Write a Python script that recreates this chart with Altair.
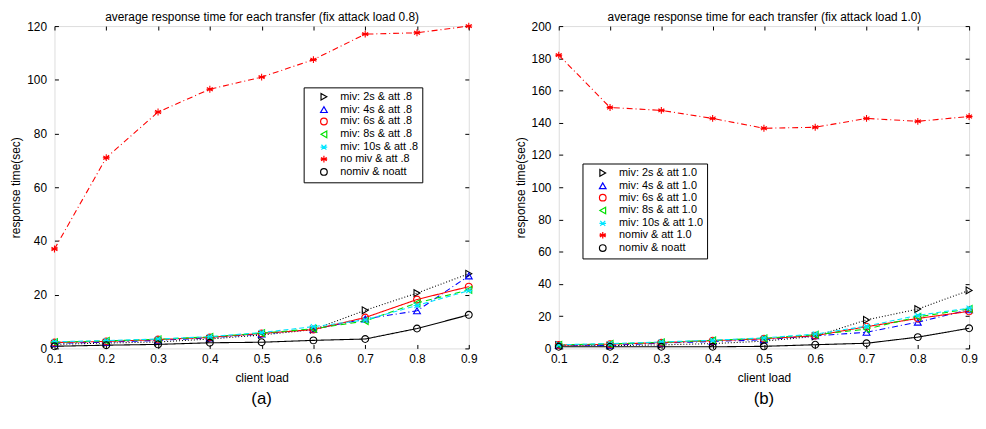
import altair as alt
import pandas as pd

# ---------------- data ----------------
x_loads = [0.1, 0.2, 0.3, 0.4, 0.5, 0.6, 0.7, 0.8, 0.9]

a_series = ["miv: 2s & att .8", "miv: 4s & att .8", "miv: 6s & att .8",
            "miv: 8s & att .8", "miv: 10s & att .8", "no miv & att .8",
            "nomiv & noatt"]
a_miv2 = [1.5, 2.0, 2.4, 3.5, 5.0, 7.0, 14.2, 20.6, 27.8]
a_miv4 = [1.9, 2.3, 3.0, 3.9, 5.4, 7.1, 11.0, 14.0, 27.0]
a_miv6 = [2.2, 2.6, 3.3, 4.1, 5.6, 7.0, 11.5, 18.2, 23.0]
a_miv8 = [2.3, 2.8, 3.4, 4.3, 5.7, 7.3, 10.2, 16.9, 21.8]
a_miv10 = [2.5, 2.9, 3.5, 4.4, 5.9, 8.1, 10.6, 16.0, 21.5]
a_nomiv_att = [37.0, 71.0, 88.0, 96.5, 101.0, 107.5, 117.0, 117.5, 120.0]
a_nomiv_noatt = [0.8, 1.2, 1.5, 2.1, 2.3, 3.0, 3.5, 7.4, 12.5]

b_series = ["miv: 2s & att 1.0", "miv: 4s & att 1.0", "miv: 6s & att 1.0",
            "miv: 8s & att 1.0", "miv: 10s & att 1.0", "nomiv & att 1.0",
            "nomiv & noatt"]
b_miv2 = [2.0, 1.7, 2.2, 3.0, 4.5, 7.5, 17.7, 24.4, 36.0]
b_miv4 = [2.0, 1.9, 3.3, 4.3, 5.4, 7.8, 10.0, 16.3, 24.0]
b_miv6 = [2.1, 2.6, 3.6, 4.8, 6.0, 7.9, 13.5, 18.6, 23.0]
b_miv8 = [2.2, 2.8, 3.8, 5.0, 6.3, 8.5, 12.0, 19.6, 24.5]
b_miv10 = [2.3, 3.0, 4.0, 5.1, 6.5, 8.9, 13.8, 20.5, 25.0]
b_nomiv_att = [182.0, 149.5, 147.7, 142.7, 136.6, 137.2, 142.7, 140.9, 143.9]
b_nomiv_noatt = [1.0, 1.0, 1.0, 1.0, 1.3, 2.3, 3.2, 7.0, 12.5]

a_title = "average response time for each transfer (fix attack load 0.8)"
b_title = "average response time for each transfer (fix attack load 1.0)"
x_title = "client load"
y_title = "response time(sec)"

# ---------------- styling ----------------
FONT = "Liberation Sans"
colors = ["#000000", "#0000ff", "#ff0000", "#00e000", "#00e5ff", "#ff0000", "#000000"]
dashes = [[1, 2], [6, 3, 1, 3], [1, 0], [6, 4], [5, 3], [6, 3, 1, 3], [1, 0]]
X_PATH = "M-0.75,-0.75L0.75,0.75M-0.75,0.75L0.75,-0.75M-1,0L1,0"
STAR_PATH = "M0,-1L0,1M-0.87,-0.5L0.87,0.5M-0.87,0.5L0.87,-0.5M-1,0L1,0"
shapes = ["triangle-right", "triangle-up", "circle", "triangle-left", X_PATH, STAR_PATH, "circle"]


def panel(series, values, ymax, top_title, caption, legend_x, legend_y, width, height):
    line_keys = ["line | " + s for s in series]   # separate key so line styles stay out of the legend
    rows = []
    for name, key, vals in zip(series, line_keys, values):
        for x, v in zip(x_loads, vals):
            rows.append({"load": x, "time": v, "series": name, "linekey": key})
    df = pd.DataFrame(rows)

    xscale = alt.Scale(domain=[0.1, 0.9], nice=False)
    yscale = alt.Scale(domain=[0, ymax], nice=False)
    yticks = list(range(0, ymax + 1, 20))

    common_axis = dict(domain=False, grid=False, offset=-4, tickSize=4,
                       tickColor="black", tickWidth=1, labelColor="black",
                       labelFont=FONT, labelFontSize=12, titleFont=FONT,
                       titleFontSize=12, titleFontWeight="normal", titleColor="black")

    bottom_axis = alt.Axis(orient="bottom", values=x_loads, format=".1f", labelFlush=False,
                           labelPadding=5, title=x_title, titlePadding=8, **common_axis)
    top_axis = alt.Axis(orient="top", values=x_loads, labels=False, title=top_title,
                        titlePadding=2, **common_axis)
    left_axis = alt.Axis(orient="left", values=yticks, labelPadding=8, title=y_title,
                         titlePadding=4, **common_axis)
    right_axis = alt.Axis(orient="right", values=yticks, labels=False, title=None,
                          **common_axis)

    legend = alt.Legend(orient="none", legendX=legend_x, legendY=legend_y, title=None,
                        fillColor="white", strokeColor="black", padding=4,
                        labelFont=FONT, labelFontSize=11, labelColor="black",
                        symbolSize=45, symbolStrokeWidth=1.2, rowPadding=0,
                        symbolOffset=11, labelOffset=11, labelLimit=200)

    lines = alt.Chart(df).mark_line(strokeWidth=1.1).encode(
        x=alt.X("load:Q", scale=xscale, axis=bottom_axis),
        y=alt.Y("time:Q", scale=yscale, axis=left_axis),
        stroke=alt.Stroke("linekey:N", scale=alt.Scale(domain=line_keys, range=colors),
                          legend=None),
        strokeDash=alt.StrokeDash("linekey:N", scale=alt.Scale(domain=line_keys, range=dashes),
                                  legend=None),
    )
    points = alt.Chart(df).mark_point(filled=False, size=48, strokeWidth=1.1, opacity=1).encode(
        x=alt.X("load:Q", scale=xscale, axis=top_axis),
        y=alt.Y("time:Q", scale=yscale, axis=right_axis),
        color=alt.Color("series:N", scale=alt.Scale(domain=series, range=colors), legend=legend),
        shape=alt.Shape("series:N", scale=alt.Scale(domain=series, range=shapes), legend=legend),
    )
    return alt.layer(lines, points).resolve_axis(x="independent", y="independent").properties(
        width=width, height=height,
        title=alt.TitleParams(caption, orient="bottom", fontSize=17, fontWeight="normal",
                              font=FONT, color="black", offset=8),
    )


pa = panel(a_series, [a_miv2, a_miv4, a_miv6, a_miv8, a_miv10, a_nomiv_att, a_nomiv_noatt],
           120, a_title, "(a)", 252, 62, 419, 326)
pb = panel(b_series, [b_miv2, b_miv4, b_miv6, b_miv8, b_miv10, b_nomiv_att, b_nomiv_noatt],
           200, b_title, "(b)", 24, 139, 415, 326)

chart = alt.hconcat(pa, pb, spacing=36).resolve_scale(
    color="independent", shape="independent", strokeDash="independent", stroke="independent"
).resolve_legend(
    color="independent", shape="independent", strokeDash="independent", stroke="independent"
).properties(
    padding={"left": 1, "top": 0, "right": 0, "bottom": 0}
).configure_view(stroke="black", strokeWidth=1.5).configure(font=FONT)

chart.save("out.html", embed_options={"renderer": "svg", "actions": False})
